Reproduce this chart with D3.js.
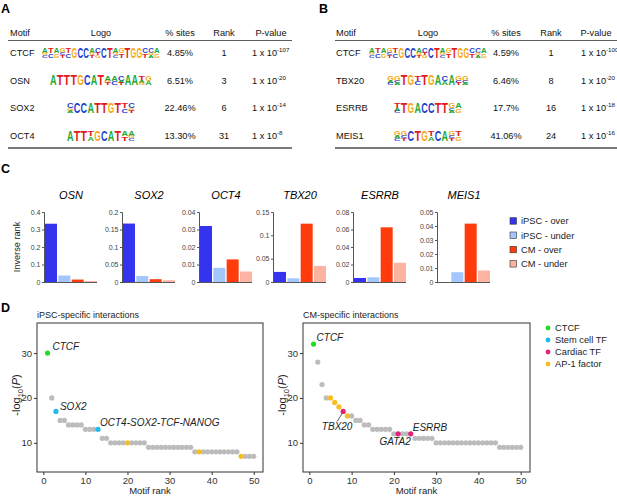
<!DOCTYPE html>
<html>
<head>
<meta charset="utf-8">
<script src="https://cdn.jsdelivr.net/npm/d3@7"></script>
<style>
  body { margin: 0; background: #fff; }
  svg { display: block; font-family: "Liberation Sans", Arial, Helvetica, sans-serif; }
</style>
</head>
<body>
<div id="chart"></div>
<script>
// ---- data: panel A (iPSC) ----
const motifsA = ['CTCF', 'OSN', 'SOX2', 'OCT4']
const logosA = [
  ['AGC', 'TC', 'AG', 'GCT', 'TC', 'G', 'C', 'C', 'AGT', 'CTG', 'C', 'T', 'AGC', 'GT', 'T', 'G', 'G', 'CT', 'CGA', 'AG'],
  ['A', 'T', 'T', 'T', 'G', 'C', 'A', 'T', 'AGT', 'AC', 'CAT', 'A', 'A', 'TAG', 'GA'],
  ['CGA', 'C', 'C', 'A', 'T', 'T', 'G', 'T', 'TC', 'CGT'],
  ['A', 'T', 'T', 'TA', 'G', 'C', 'A', 'T', 'AT', 'AGC']
]
const sitesA = ['4.85%', '6.51%', '22.46%', '13.30%']
const ranksA = [1, 3, 6, 31]
const expA = ['-107', '-20', '-14', '-8']

// ---- data: panel B (CM) ----
const motifsB = ['CTCF', 'TBX20', 'ESRRB', 'MEIS1']
const logosB = [
  ['AGC', 'TC', 'AG', 'GCT', 'TC', 'G', 'C', 'C', 'AGT', 'CTG', 'C', 'T', 'AGC', 'GT', 'T', 'G', 'G', 'CT', 'CGA', 'AG'],
  ['GAC', 'GCA', 'T', 'G', 'TC', 'T', 'G', 'A', 'CA', 'A', 'GCT', 'GCA'],
  ['TAC', 'T', 'G', 'A', 'C', 'C', 'T', 'T', 'GCA', 'AG'],
  ['GAC', 'GCT', 'C', 'T', 'G', 'TA', 'C', 'A', 'GCT', 'TG']
]
const sitesB = ['4.59%', '6.46%', '17.7%', '41.06%']
const ranksB = [1, 8, 16, 24]
const expB = ['-100', '-20', '-18', '-16']

// ---- data: panel C ----
const tfC = ['OSN', 'SOX2', 'OCT4', 'TBX20', 'ESRRB', 'MEIS1']
const groupsC = ['iPSC - over', 'iPSC - under', 'CM - over', 'CM - under']
const invRank = [
  [0.333, 0.037, 0.014, 0.006],
  [0.167, 0.017, 0.008, 0.005],
  [0.032, 0.0081, 0.0129, 0.006],
  [0.0216, 0.008, 0.125, 0.0345],
  [0.0046, 0.0054, 0.0625, 0.0219],
  [0, 0.007, 0.0417, 0.0082]
]
const yMaxC = [0.4, 0.2, 0.04, 0.15, 0.08, 0.05]
const tickStepC = [0.1, 0.05, 0.01, 0.05, 0.02, 0.01]

// ---- data: panel D ----
const ipscLogP = [30, 20, 17, 15, 15, 14, 14, 14, 14, 13, 13, 13, 13, 11, 11,
  10, 10, 10, 10, 10, 10, 10, 10, 10,
  9, 9, 9, 9, 9, 9, 9, 9, 9, 9, 9,
  8, 8, 8, 8, 8, 8, 8, 8, 8, 8, 8,
  7, 7, 7, 7]
const cmLogP = [32, 28, 23, 20, 20, 19, 18, 17, 16, 16, 15, 15, 14, 14, 13, 13, 13, 13, 13,
  12, 12, 12, 12, 12,
  11, 11, 11, 11, 11,
  10, 10, 10, 10, 10, 10, 10, 10, 10, 10, 10, 10, 10, 10, 10,
  9, 9, 9, 9, 9, 9]
const ipscCtcf = [1], ipscStem = [3, 13], ipscAp1 = [20, 37, 47]
const cmCtcf = [1], cmCardiac = [8, 21, 24], cmAp1 = [5, 6, 7, 9]
const ipscLabels = [['CTCF', 1], ['SOX2', 3], ['OCT4-SOX2-TCF-NANOG', 13]]
const cmLabels = [['CTCF', 1], ['TBX20', 8], ['GATA2', 21], ['ESRRB', 24]]
const classesD = ['CTCF', 'Stem cell TF', 'Cardiac TF', 'AP-1 factor']
const xTicksD = [0, 10, 20, 30, 40, 50]
const yTicksD = [10, 20, 30]

// ---- styles ----
const letterColor = { A: '#22a832', C: '#2342d0', G: '#f5a915', T: '#e01b1b' }
const barColor = ['#3434ee', '#a3c6fd', '#ff3b0c', '#fcb3a1']
const classColor = ['#1fe01f', '#1cbcee', '#e3237a', '#f6be22']
const greyPt = '#bcbcbc'

const W = 617, H = 497
const svg = d3.select('#chart').append('svg').attr('width', W).attr('height', H)

// panel letters
;[['A', 1, 13], ['B', 319, 13], ['C', 1, 173], ['D', 1, 312]].forEach(([t, x, y]) => {
  svg.append('text').attr('x', x).attr('y', y).attr('font-size', 12.5)
    .attr('font-weight', 'bold').text(t)
})

// ---------- tables A and B ----------
const rowY = d3.scaleLinear().domain([0, 3]).range([56, 139])

function drawLogo (g, cols, cx, yBase) {
  const h = 10
  const cw = Math.min(6.8, 118 / cols.length)
  const x0 = cx - cw * cols.length / 2
  cols.forEach((c, i) => {
    const letters = c.split('')
    let hs
    if (letters.length === 1) hs = [h]
    else hs = [h * 0.5].concat(letters.slice(1).map(() => h * 0.45 / (letters.length - 1)))
    let y = yBase - d3.sum(hs)
    letters.forEach((l, j) => {
      y += hs[j]
      g.append('text')
        .attr('transform', `translate(${x0 + i * cw},${y}) scale(1,${hs[j] / 7.2})`)
        .attr('font-size', 10).attr('font-weight', 'bold')
        .attr('textLength', cw * 0.96).attr('lengthAdjust', 'spacingAndGlyphs')
        .attr('fill', letterColor[l]).text(l)
    })
  })
}

function drawTable (o) {
  const g = svg.append('g').attr('font-size', 9.2).attr('fill', '#111')
  const head = [['Motif', o.motifX, 'start'], ['Logo', o.logoX, 'middle'], ['% sites', o.sitesX, 'middle'],
    ['Rank', o.rankX, 'middle'], ['P-value', o.pHeadX, 'middle']]
  head.forEach(([t, x, a]) => g.append('text').attr('x', x).attr('y', 36).attr('text-anchor', a).text(t))
  g.append('line').attr('x1', o.x0).attr('x2', o.x1).attr('y1', 40.5).attr('y2', 40.5)
    .attr('stroke', '#333').attr('stroke-width', 0.8)
  g.append('line').attr('x1', o.x0).attr('x2', o.x1).attr('y1', 148).attr('y2', 148)
    .attr('stroke', '#7a7a7a').attr('stroke-width', 1.8)
  o.motifs.forEach((m, i) => {
    const y = rowY(i)
    g.append('text').attr('x', o.motifX).attr('y', y).text(m)
    drawLogo(g, o.logos[i], o.logoX, y + 1.5)
    g.append('text').attr('x', o.sitesX).attr('y', y).attr('text-anchor', 'middle').text(o.sites[i])
    g.append('text').attr('x', o.rankX).attr('y', y).attr('text-anchor', 'middle').text(o.ranks[i])
    const t = g.append('text').attr('x', o.pX).attr('y', y).text('1 x 10')
    t.append('tspan').attr('dy', -4).attr('font-size', 6.2).text(o.exps[i])
  })
}

drawTable({ x0: 8, x1: 292, motifX: 10, logoX: 101, sitesX: 180, rankX: 224, pHeadX: 271, pX: 252,
  motifs: motifsA, logos: logosA, sites: sitesA, ranks: ranksA, exps: expA })
drawTable({ x0: 335, x1: 617, motifX: 336, logoX: 428, sitesX: 506, rankX: 551, pHeadX: 596, pX: 581,
  motifs: motifsB, logos: logosB, sites: sitesB, ranks: ranksB, exps: expB })

// ---------- panel C ----------
const axisXC = [44, 122, 199, 273, 353, 437]
const yC0 = 282, yC1 = 212
tfC.forEach((tf, k) => {
  const ax = axisXC[k]
  const g = svg.append('g')
  const y = d3.scaleLinear().domain([0, yMaxC[k]]).range([yC0, yC1])
  const x = d3.scaleBand().domain(groupsC).range([ax + 1, ax + 53]).paddingInner(0.1)
  g.selectAll('rect').data(invRank[k]).join('rect')
    .attr('x', (d, i) => x(groupsC[i])).attr('width', x.bandwidth())
    .attr('y', d => y(d)).attr('height', d => yC0 - y(d))
    .attr('fill', (d, i) => barColor[i])
  const yAxis = d3.axisLeft(y).tickValues(d3.range(0, yMaxC[k] + 1e-9, tickStepC[k]))
    .tickSize(2).tickPadding(1.5).tickFormat(d3.format('~g'))
  const ga = g.append('g').attr('transform', `translate(${ax},0)`).call(yAxis)
  ga.select('.domain').attr('stroke', '#555')
  ga.selectAll('.tick line').attr('stroke', '#555')
  ga.selectAll('.tick text').attr('font-size', 7).attr('fill', '#444')
    .attr('font-family', '"Liberation Sans", Arial, sans-serif')
  g.append('line').attr('x1', ax).attr('x2', ax + 53).attr('y1', yC0 + 0.5).attr('y2', yC0 + 0.5)
    .attr('stroke', '#444').attr('stroke-width', 0.9)
  g.append('text').attr('x', ax + 27).attr('y', 199).attr('text-anchor', 'middle')
    .attr('font-size', 11).attr('font-style', 'italic').text(tf)
})
svg.append('text').attr('transform', 'translate(19.5,247) rotate(-90)').attr('text-anchor', 'middle')
  .attr('font-size', 9.2).attr('fill', '#222').text('Inverse rank')

const legC = svg.append('g')
groupsC.forEach((gname, i) => {
  const cy = 221 + i * 14.3
  legC.append('rect').attr('x', 510).attr('y', cy - 3.3).attr('width', 6.5).attr('height', 6.5)
    .attr('fill', barColor[i]).attr('stroke', '#333').attr('stroke-width', 0.6)
  legC.append('text').attr('x', 521).attr('y', cy + 3.4).attr('font-size', 9.3).attr('fill', '#222').text(gname)
})

// ---------- panel D ----------
const yD = d3.scaleLinear().domain([3.5, 36.7]).range([472, 323])

function drawScatter (o) {
  const g = svg.append('g')
  const x = d3.scaleLinear().domain([-1.5, 52.2]).range([o.x0, o.x1])
  g.append('text').attr('x', o.x0).attr('y', 318).attr('font-size', 9).attr('fill', '#222').text(o.title)
  const xa = g.append('g').attr('transform', 'translate(0,472)')
    .call(d3.axisBottom(x).tickValues(xTicksD).tickSize(3).tickPadding(2))
  const ya = g.append('g').attr('transform', `translate(${o.x0},0)`)
    .call(d3.axisLeft(yD).tickValues(yTicksD).tickSize(3).tickPadding(2))
  ;[xa, ya].forEach(a => {
    a.select('.domain').remove()
    a.selectAll('.tick line').attr('stroke', '#333')
    a.selectAll('.tick text').attr('font-size', 9.5).attr('fill', '#333')
      .attr('font-family', '"Liberation Sans", Arial, sans-serif')
  })
  g.append('rect').attr('x', o.x0).attr('y', 323).attr('width', o.x1 - o.x0).attr('height', 149)
    .attr('fill', 'none').attr('stroke', '#333').attr('stroke-width', 1)
  g.append('text').attr('x', (o.x0 + o.x1) / 2).attr('y', 494).attr('text-anchor', 'middle')
    .attr('font-size', 9.5).attr('fill', '#222').text('Motif rank')
  const yl = g.append('text').attr('transform', `translate(${o.x0 - 17},395) rotate(-90)`)
    .attr('text-anchor', 'middle').attr('font-size', 11).attr('fill', '#222')
  yl.append('tspan').text('-log')
  yl.append('tspan').attr('font-size', 7.5).attr('dy', 2.5).text('10')
  yl.append('tspan').attr('dy', -2.5).text('(')
  yl.append('tspan').attr('font-style', 'italic').text('P')
  yl.append('tspan').text(')')

  const pts = o.vals.map((v, i) => ({ rank: i + 1, v: v, c: -1 }))
  o.groups.forEach((ranks, ci) => { if (ranks) ranks.forEach(r => { pts[r - 1].c = ci }) })
  const ordered = pts.filter(p => p.c < 0).concat(pts.filter(p => p.c >= 0))
  g.selectAll('circle').data(ordered).join('circle')
    .attr('cx', d => x(d.rank)).attr('cy', d => yD(d.v)).attr('r', 2.6)
    .attr('fill', d => d.c < 0 ? greyPt : classColor[d.c])

  o.labels.forEach(([t, r], i) => {
    const [dx, dy, anchor] = o.labelPos[i]
    const px = x(r), py = yD(o.vals[r - 1])
    g.append('text').attr('x', px + dx).attr('y', py + dy).attr('text-anchor', anchor)
      .attr('font-size', 10).attr('font-style', 'italic').attr('fill', '#222').text(t)
  })
  if (o.leader) {
    const [r, dx, dy] = o.leader
    const px = x(r), py = yD(o.vals[r - 1])
    g.append('line').attr('x1', px - 1).attr('y1', py + 2).attr('x2', px + dx).attr('y2', py + dy)
      .attr('stroke', '#333').attr('stroke-width', 0.8)
  }
}

drawScatter({ x0: 37, x1: 263, title: 'iPSC-specific interactions', vals: ipscLogP,
  groups: [ipscCtcf, ipscStem, null, ipscAp1], labels: ipscLabels,
  labelPos: [[5, -3, 'start'], [4, -1, 'start'], [2, -3, 'start']] })
drawScatter({ x0: 303, x1: 530, title: 'CM-specific interactions', vals: cmLogP,
  groups: [cmCtcf, cmCardiac, null, cmAp1].map((d, i) => [cmCtcf, null, cmCardiac, cmAp1][i]),
  labels: cmLabels,
  labelPos: [[3, -3, 'start'], [-6, 19, 'middle'], [-3, 11, 'middle'], [2, -3, 'start']],
  leader: [8, -6, 10] })

const legD = svg.append('g')
classesD.forEach((c, i) => {
  const cy = 328 + i * 12
  legD.append('circle').attr('cx', 548).attr('cy', cy).attr('r', 2.4).attr('fill', classColor[i])
  legD.append('text').attr('x', 555).attr('y', cy + 3.3).attr('font-size', 9.3).attr('fill', '#222').text(c)
})
</script>
</body>
</html>
